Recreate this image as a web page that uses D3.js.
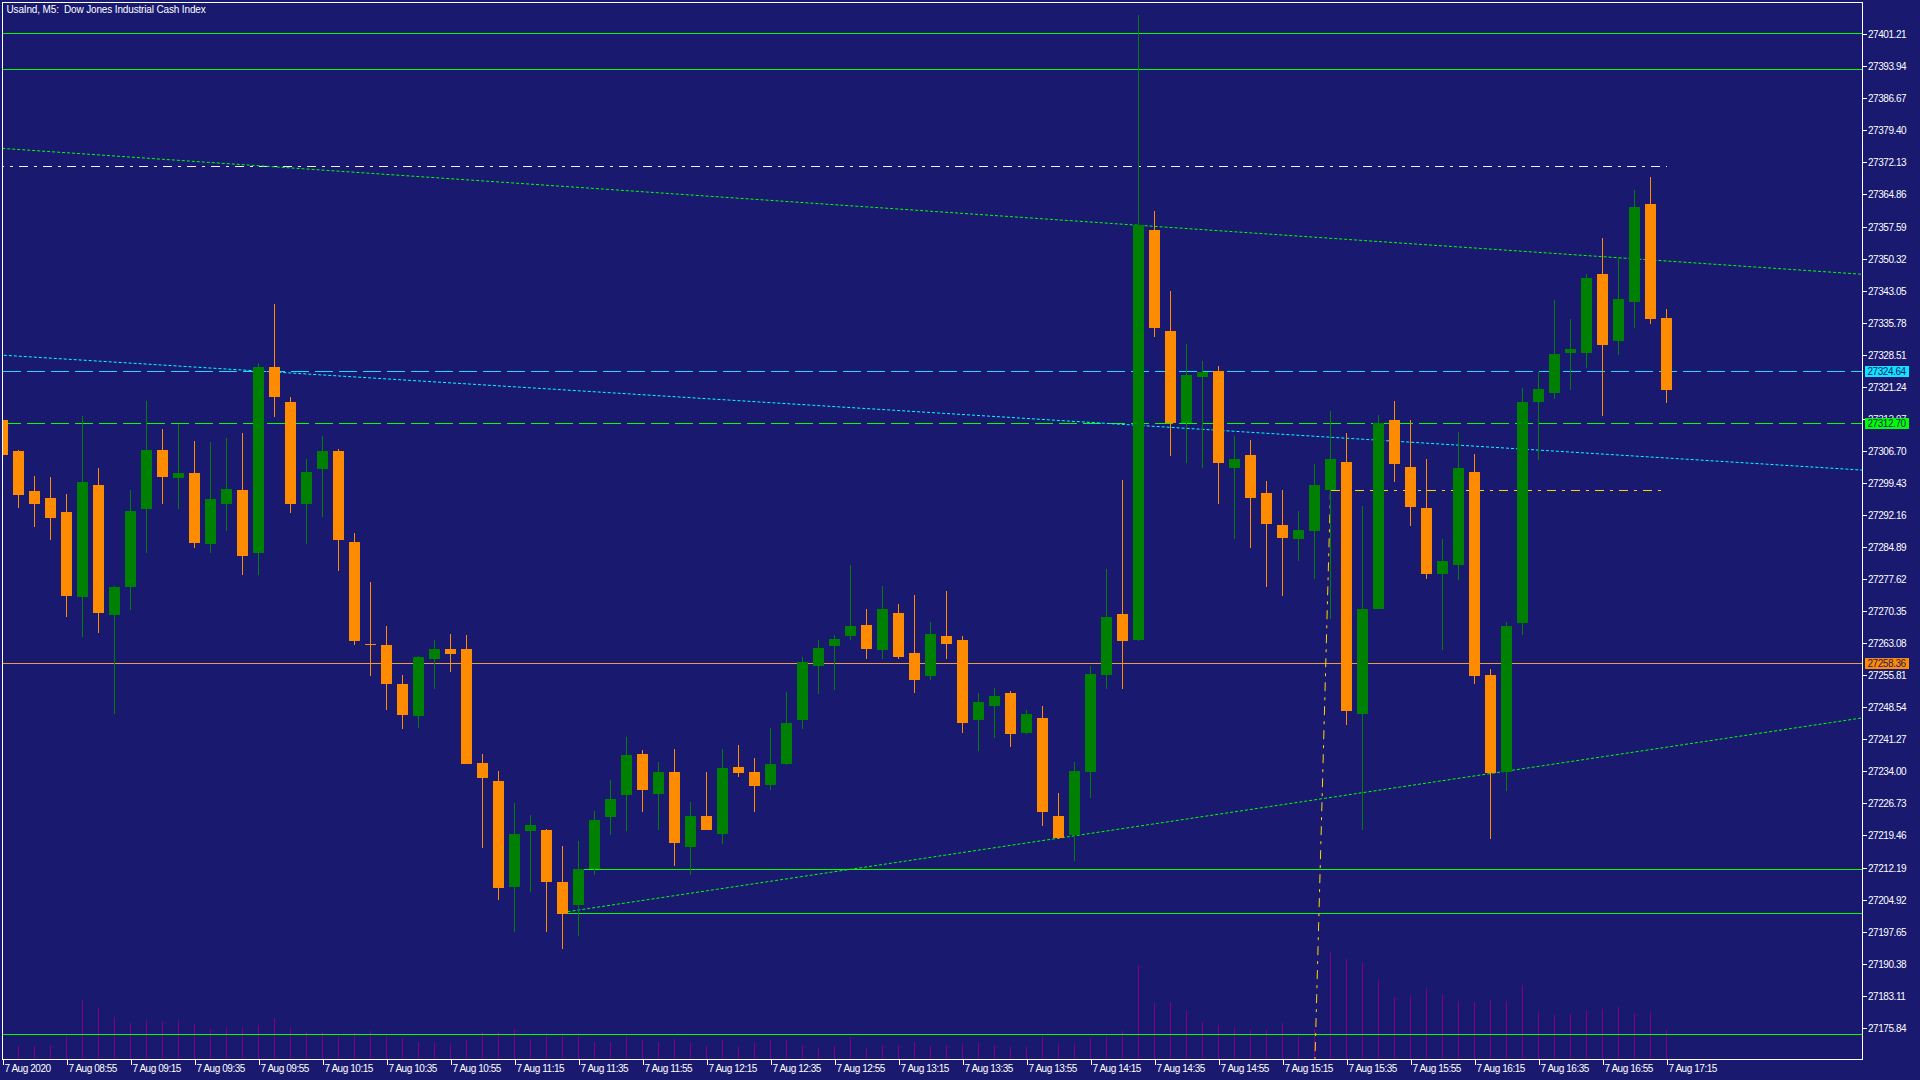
<!DOCTYPE html>
<html>
<head>
<meta charset="utf-8">
<script src="https://d3js.org/d3.v7.min.js"></script>
<style>
  html, body { margin: 0; padding: 0; background: #191970; }
  svg { display: block; }
  text { font-family: "Liberation Sans", Arial, sans-serif; font-size: 10px; letter-spacing: -0.45px; }
</style>
</head>
<body>
<svg id="chart" width="1920" height="1080"></svg>
<script>
'use strict';
var title, openPrices, highPrices, lowPrices, closePrices, volumes;
var priceTicks, timeTickBars, timeTickLabels, hLines, boxLabels, segments, trendLines;

title = 'UsaInd, M5:  Dow Jones Industrial Cash Index';

/* one bar every 5 minutes, 08:35 .. 17:15 */
openPrices = [27313.6, 27306.6, 27297.5, 27295.9, 27292.7, 27273.5, 27298.8, 27269.4, 27275.6, 27293.5,
  27306.8, 27300.4, 27301.6, 27285.5, 27294.6, 27297.7, 27283.5, 27325.6, 27317.7, 27294.6,
  27302.5, 27306.6, 27285.9, 27262.8, 27262.6, 27253.7, 27246.5, 27259.4, 27261.6, 27261.6,
  27235.8, 27231.7, 27207.7, 27220.4, 27220.6, 27208.8, 27203.6, 27211.7, 27223.5, 27228.5,
  27237.8, 27228.8, 27233.7, 27216.7, 27223.8, 27219.7, 27234.9, 27233.7, 27230.8, 27235.6,
  27245.5, 27257.8, 27262.3, 27264.6, 27267.1, 27261.4, 27269.8, 27260.7, 27255.5, 27264.6,
  27263.7, 27245.5, 27248.7, 27251.7, 27242.6, 27246.0, 27223.8, 27219.4, 27233.7, 27255.7,
  27269.6, 27263.7, 27356.7, 27333.8, 27312.8, 27323.3, 27324.7, 27302.6, 27305.6, 27297.0,
  27289.8, 27286.7, 27288.5, 27297.6, 27304.1, 27246.9, 27270.7, 27313.6, 27302.9, 27293.6,
  27278.7, 27280.7, 27301.8, 27255.8, 27233.8, 27267.5, 27317.7, 27319.7, 27328.8, 27328.8,
  27346.7, 27331.5, 27340.4, 27362.6, 27336.7];

highPrices = [27314.5, 27306.8, 27300.9, 27300.7, 27296.8, 27314.5, 27302.7, 27275.9, 27297.7, 27317.9,
  27311.5, 27312.6, 27308.8, 27308.6, 27309.5, 27310.6, 27326.5, 27340.0, 27318.8, 27304.7,
  27310.0, 27306.9, 27287.9, 27276.8, 27266.9, 27255.7, 27260.0, 27263.7, 27265.0, 27264.8,
  27237.8, 27234.0, 27226.7, 27224.0, 27220.8, 27217.0, 27218.1, 27224.9, 27231.9, 27241.7,
  27238.7, 27236.0, 27239.0, 27227.0, 27233.7, 27239.0, 27239.9, 27236.9, 27243.7, 27251.9,
  27259.8, 27263.7, 27264.8, 27280.7, 27270.7, 27275.9, 27271.8, 27273.9, 27267.8, 27274.8,
  27264.6, 27251.7, 27252.8, 27252.1, 27247.8, 27248.7, 27229.0, 27236.0, 27257.8, 27279.8,
  27300.0, 27405.5, 27361.0, 27342.9, 27330.8, 27327.0, 27325.8, 27310.0, 27309.1, 27299.8,
  27297.7, 27292.9, 27303.6, 27315.6, 27310.6, 27294.1, 27314.7, 27317.9, 27313.6, 27304.7,
  27286.6, 27310.9, 27305.9, 27257.1, 27267.8, 27320.8, 27324.5, 27340.8, 27336.5, 27346.7,
  27354.9, 27350.6, 27365.8, 27368.7, 27338.7];

lowPrices = [27304.8, 27293.7, 27289.4, 27286.4, 27268.8, 27264.4, 27265.3, 27246.9, 27270.6, 27283.5,
  27294.6, 27293.5, 27284.6, 27283.5, 27288.5, 27278.5, 27278.5, 27314.3, 27292.6, 27285.5,
  27291.7, 27279.4, 27262.6, 27255.6, 27247.7, 27243.6, 27243.8, 27252.6, 27256.5, 27235.6,
  27216.6, 27204.8, 27197.5, 27206.6, 27197.5, 27193.7, 27196.6, 27210.4, 27219.5, 27220.4,
  27224.7, 27220.6, 27212.4, 27210.4, 27220.6, 27217.4, 27232.6, 27224.7, 27229.7, 27235.3,
  27243.5, 27251.4, 27252.3, 27263.7, 27259.4, 27259.4, 27259.4, 27251.7, 27254.6, 27259.4,
  27242.6, 27238.5, 27241.4, 27239.4, 27242.4, 27221.5, 27218.5, 27213.6, 27227.8, 27252.6,
  27252.6, 27263.5, 27332.5, 27305.5, 27303.9, 27302.6, 27294.6, 27286.7, 27284.6, 27275.8,
  27273.7, 27281.7, 27277.6, 27268.4, 27244.4, 27220.6, 27270.7, 27299.5, 27289.6, 27277.5,
  27261.4, 27277.3, 27253.7, 27218.6, 27229.4, 27264.8, 27304.5, 27318.3, 27320.4, 27325.4,
  27314.5, 27328.3, 27334.5, 27335.4, 27317.4];

closePrices = [27305.7, 27296.6, 27294.6, 27291.4, 27273.7, 27299.5, 27269.7, 27275.7, 27292.9, 27306.8,
  27300.7, 27301.6, 27285.7, 27295.7, 27297.9, 27282.8, 27325.6, 27318.7, 27294.6, 27301.8,
  27306.6, 27286.4, 27263.5, 27262.7, 27253.8, 27246.7, 27259.8, 27261.6, 27260.5, 27235.6,
  27232.5, 27207.5, 27219.7, 27221.7, 27208.9, 27201.6, 27211.7, 27222.9, 27227.6, 27237.6,
  27229.7, 27233.7, 27217.6, 27223.8, 27220.6, 27234.6, 27233.5, 27230.6, 27235.6, 27244.9,
  27258.7, 27261.9, 27263.9, 27266.8, 27261.6, 27270.7, 27259.8, 27254.6, 27265.0, 27262.8,
  27244.9, 27249.6, 27251.0, 27242.4, 27246.9, 27224.7, 27218.8, 27233.9, 27255.9, 27268.9,
  27263.5, 27357.8, 27334.5, 27312.8, 27323.8, 27324.5, 27303.9, 27304.7, 27295.8, 27289.9,
  27286.9, 27288.6, 27298.9, 27304.7, 27247.6, 27270.7, 27312.9, 27303.6, 27293.9, 27278.7,
  27281.6, 27302.7, 27255.5, 27233.5, 27266.9, 27317.7, 27320.6, 27328.6, 27329.7, 27345.8,
  27330.6, 27341.0, 27361.9, 27336.5, 27320.4];

volumes = [150, 130, 130, 140, 230, 590, 510, 420, 360, 390,
  380, 390, 350, 300, 310, 310, 340, 410, 310, 270,
  270, 230, 260, 280, 230, 210, 170, 160, 150, 190,
  270, 270, 300, 200, 250, 250, 250, 170, 170, 230,
  190, 170, 200, 160, 130, 190, 120, 160, 190, 190,
  140, 110, 130, 220, 110, 140, 140, 170, 130, 140,
  150, 160, 140, 120, 120, 230, 150, 150, 210, 230,
  280, 940, 560, 570, 480, 370, 340, 310, 290, 290,
  360, 240, 300, 1070, 1000, 960, 790, 620, 630, 710,
  640, 580, 570, 590, 580, 740, 470, 440, 450, 480,
  500, 520, 460, 470, 290];

priceTicks = [27401.21, 27393.94, 27386.67, 27379.40, 27372.13, 27364.86, 27357.59, 27350.32,
  27343.05, 27335.78, 27328.51, 27321.24, 27313.97, 27306.70, 27299.43, 27292.16,
  27284.89, 27277.62, 27270.35, 27263.08, 27255.81, 27248.54, 27241.27, 27234.00,
  27226.73, 27219.46, 27212.19, 27204.92, 27197.65, 27190.38, 27183.11, 27175.84];

timeTickBars = [0, 4, 8, 12, 16, 20, 24, 28, 32, 36, 40, 44, 48, 52, 56, 60, 64, 68, 72, 76, 80, 84, 88, 92, 96, 100, 104];
timeTickLabels = ['7 Aug 2020', '7 Aug 08:55', '7 Aug 09:15', '7 Aug 09:35', '7 Aug 09:55', '7 Aug 10:15',
  '7 Aug 10:35', '7 Aug 10:55', '7 Aug 11:15', '7 Aug 11:35', '7 Aug 11:55', '7 Aug 12:15',
  '7 Aug 12:35', '7 Aug 12:55', '7 Aug 13:15', '7 Aug 13:35', '7 Aug 13:55', '7 Aug 14:15',
  '7 Aug 14:35', '7 Aug 14:55', '7 Aug 15:15', '7 Aug 15:35', '7 Aug 15:55', '7 Aug 16:15',
  '7 Aug 16:35', '7 Aug 16:55', '7 Aug 17:15'];

// full width horizontal lines
hLines = [
  {price: 27401.30, color: '#00ff00', dash: null},
  {price: 27393.13, color: '#00ff00', dash: null},
  {price: 27324.64, color: '#22d8ff', dash: '18,6'},
  {price: 27312.70, color: '#00ff00', dash: '18,6'},
  {price: 27258.36, color: '#ec9a48', dash: null},
  {price: 27174.25, color: '#00ff00', dash: null}
];

boxLabels = [
  {price: 27324.64, color: '#10e4ff'},
  {price: 27312.70, color: '#00ff00'},
  {price: 27258.36, color: '#ff8c00'}
];

// bar-to-bar segments (toBar null = to the right edge)
segments = [
  {price: 27371.13, fromBar: -2, toBar: 104, color: '#f0f0ff', dash: '9,6,3,6'},
  {price: 27211.67, fromBar: 36, toBar: null, color: '#00ff00', dash: null},
  {price: 27201.70, fromBar: 35, toBar: null, color: '#00ff00', dash: null},
  {price: 27297.64, fromBar: 83, toBar: 104, color: '#ffd700', dash: '9,6,3,6'}
];

trendLines = [
  {b1: 0, p1: 27375.19, b2: 104, p2: 27349.65, t0: -50, t1: 50, color: '#00ff00', dash: '3,2'},
  {b1: 0, p1: 27328.29, b2: 104, p2: 27304.97, t0: -50, t1: 50, color: '#00ffff', dash: '3,2'},
  {b1: 35, p1: 27201.90, b2: 93, p2: 27233.40, t0: 0, t1: 50, color: '#00ff00', dash: '3,2'},
  {b1: 83, p1: 27297.64, b2: 82.03, p2: 27168.65, t0: 0, t1: 3, color: '#ffd700', dash: '9,6,3,6'}
];

var W = 1920, H = 1080;
var plotL = 2.5, plotT = 2.5, plotR = 1862.5, plotB = 1059.5;

var svg = d3.select('#chart');
var x = d3.scaleLinear().domain([0, 104]).range([2.5, 1666.5]);
var y = d3.scaleLinear().domain([27175.84, 27401.21]).range([1027.3, 33.7]);
var vy = d3.scaleLinear().domain([0, 1000]).range([1059, 959]);

function crisp(v) {
  return Math.floor(v) + 0.5;
}

svg.append('rect').attr('width', W).attr('height', H).attr('fill', '#191970');

svg.append('clipPath').attr('id', 'plotClip')
  .append('rect').attr('x', plotL).attr('y', plotT).attr('width', plotR - plotL).attr('height', plotB - plotT);

var plot = svg.append('g').attr('clip-path', 'url(#plotClip)').attr('shape-rendering', 'crispEdges');
var bars = d3.range(openPrices.length);

// volumes
plot.append('g').selectAll('line').data(bars).enter().append('line')
  .attr('x1', function(d) { return x(d); })
  .attr('x2', function(d) { return x(d); })
  .attr('y1', vy(0))
  .attr('y2', function(d) { return vy(volumes[d]); })
  .attr('stroke', '#800080');

// objects
plot.append('g').selectAll('line').data(hLines).enter().append('line')
  .attr('x1', plotL).attr('x2', plotR)
  .attr('y1', function(d) { return crisp(y(d.price)); })
  .attr('y2', function(d) { return crisp(y(d.price)); })
  .attr('stroke', function(d) { return d.color; })
  .attr('stroke-dasharray', function(d) { return d.dash; });

plot.append('g').selectAll('line').data(segments).enter().append('line')
  .attr('x1', function(d) { return x(d.fromBar); })
  .attr('x2', function(d) { return d.toBar === null ? plotR : x(d.toBar); })
  .attr('y1', function(d) { return crisp(y(d.price)); })
  .attr('y2', function(d) { return crisp(y(d.price)); })
  .attr('stroke', function(d) { return d.color; })
  .attr('stroke-dasharray', function(d) { return d.dash; });

plot.append('g').attr('shape-rendering', 'auto').selectAll('line').data(trendLines).enter().append('line')
  .each(function(d) {
    var ax = x(d.b1), ay = y(d.p1), bx = x(d.b2), by = y(d.p2);
    d3.select(this)
      .attr('x1', ax + d.t0 * (bx - ax)).attr('y1', ay + d.t0 * (by - ay))
      .attr('x2', ax + d.t1 * (bx - ax)).attr('y2', ay + d.t1 * (by - ay));
  })
  .attr('stroke', function(d) { return d.color; })
  .attr('stroke-width', 1)
  .attr('stroke-dasharray', function(d) { return d.dash; });

// candles
var candle = plot.append('g').selectAll('g').data(bars).enter().append('g')
  .attr('fill', function(d) { return closePrices[d] >= openPrices[d] ? '#008000' : '#ff8c00'; })
  .attr('stroke', function(d) { return closePrices[d] >= openPrices[d] ? '#008000' : '#ff8c00'; });

candle.append('line')
  .attr('x1', function(d) { return x(d); })
  .attr('x2', function(d) { return x(d); })
  .attr('y1', function(d) { return Math.round(y(highPrices[d])); })
  .attr('y2', function(d) { return Math.round(y(lowPrices[d])); });

candle.append('rect')
  .attr('stroke', 'none')
  .attr('x', function(d) { return x(d) - 5.5; })
  .attr('width', 11)
  .attr('y', function(d) { return Math.round(y(Math.max(openPrices[d], closePrices[d]))); })
  .attr('height', function(d) {
    var top = Math.round(y(Math.max(openPrices[d], closePrices[d])));
    var bot = Math.round(y(Math.min(openPrices[d], closePrices[d])));
    return Math.max(1, bot - top);
  });

// frame
svg.append('rect')
  .attr('x', plotL).attr('y', plotT).attr('width', plotR - plotL).attr('height', plotB - plotT)
  .attr('fill', 'none').attr('stroke', '#ffffff').attr('shape-rendering', 'crispEdges');

// price axis
var yAxis = d3.axisRight(y).tickValues(priceTicks).tickSize(4).tickPadding(1.5)
  .tickFormat(d3.format('.2f'));
var gy = svg.append('g').attr('transform', 'translate(' + plotR + ',0)').call(yAxis);
gy.select('.domain').remove();
gy.selectAll('.tick line').attr('stroke', '#ffffff').attr('shape-rendering', 'crispEdges')
  .attr('transform', function() { return 'translate(0,0.5)'; });
gy.selectAll('.tick text').attr('fill', '#ffffff').attr('font-size', null).attr('font-family', null)
  .attr('dy', null).attr('y', 4);

// time axis
var xAxis = d3.axisBottom(x).tickValues(timeTickBars).tickSize(5)
  .tickFormat(function(d, i) { return timeTickLabels[i]; });
var gx = svg.append('g').attr('transform', 'translate(0,' + plotB + ')').call(xAxis);
gx.select('.domain').remove();
gx.selectAll('.tick line').attr('stroke', '#ffffff').attr('shape-rendering', 'crispEdges');
gx.selectAll('.tick text').attr('fill', '#ffffff').attr('font-size', null).attr('font-family', null)
  .attr('text-anchor', 'start').attr('x', 1.5).attr('dy', null).attr('y', 12.5);

// price boxes
var box = svg.append('g').selectAll('g').data(boxLabels).enter().append('g')
  .attr('transform', function(d) { return 'translate(1865,' + (Math.floor(y(d.price)) - 5) + ')'; });
box.append('rect').attr('width', 44).attr('height', 11)
  .attr('fill', function(d) { return d.color; }).attr('shape-rendering', 'crispEdges');
box.append('text').attr('x', 2.5).attr('y', 9.2).attr('fill', '#191970')
  .text(function(d) { return d3.format('.2f')(d.price); });

// title
svg.append('text').attr('x', 6.5).attr('y', 13).attr('fill', '#ffffff')
  .style('letter-spacing', '-0.15px')
  .style('white-space', 'pre').text(title);
</script>
</body>
</html>
